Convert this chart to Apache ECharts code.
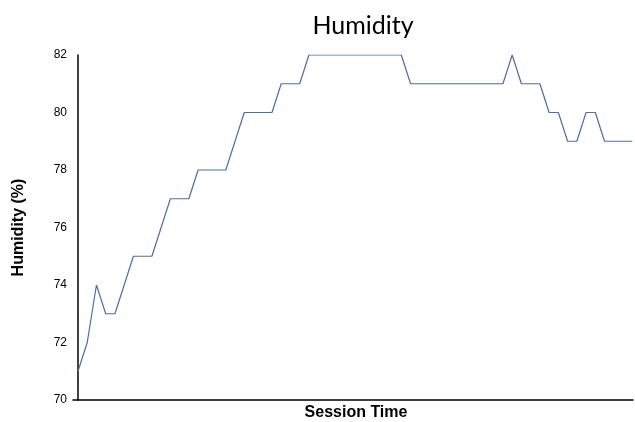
<!DOCTYPE html>
<html><head><meta charset="utf-8">
<script src="https://cdn.jsdelivr.net/npm/echarts@6/dist/echarts.min.js"></script>
<style>html,body{margin:0;padding:0;background:#fff}#c{width:635px;height:422px}</style>
</head><body><div id="c"></div>
<script>
const humidity = [71,72,74,73,73,74,75,75,75,76,77,77,77,78,78,78,78,79,80,80,80,80,81,81,81,82,82,82,82,82,82,82,82,82,82,82,81,81,81,81,81,81,81,81,81,81,81,82,81,81,81,80,80,79,79,80,80,79,79,79,79];
const yTicks = [70,72,74,76,78,80,82];
const chart = echarts.init(document.getElementById('c'));
chart.setOption({
  animation:false,
  title:{text:'Humidity',left:358,top:8,textAlign:'center',textStyle:{fontFamily:'Lato',fontWeight:'normal',fontSize:25,color:'#000'}},
  grid:{left:73,right:2,top:55,bottom:22,containLabel:false,outerBoundsMode:'none'},
  xAxis:{type:'value',min:-0.54,max:60.08,axisLine:{show:true,lineStyle:{color:'#000',width:1.5}},axisTick:{show:false},axisLabel:{show:false},splitLine:{show:false},
    name:'Session Time',nameLocation:'middle',nameGap:5,nameTextStyle:{fontFamily:'Liberation Sans',fontWeight:'bold',fontSize:16,color:'#000',padding:[0,0,0,6]}},
  yAxis:{type:'value',min:yTicks[0],max:yTicks[yTicks.length-1],interval:2,axisLine:{show:true,lineStyle:{color:'#000',width:1.5}},axisTick:{show:false},splitLine:{show:false},
    axisLabel:{fontFamily:'Liberation Sans',fontSize:12,color:'#000',margin:6},
    name:'Humidity (%)',nameLocation:'middle',nameGap:46,nameTextStyle:{fontFamily:'Liberation Sans',fontWeight:'bold',fontSize:16,color:'#000'}},
  series:[{type:'line',data:humidity.map((v,i)=>[i,v]),showSymbol:false,lineStyle:{color:'#4a6ea8',width:1.2}}]
});
</script></body></html>
